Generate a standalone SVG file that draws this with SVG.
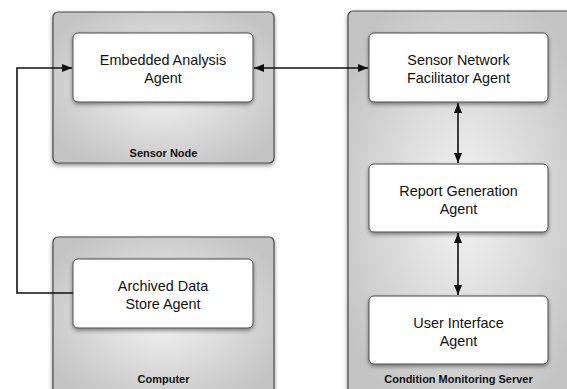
<svg xmlns="http://www.w3.org/2000/svg" width="567" height="389" viewBox="0 0 567 389">
<defs>
<radialGradient id="g" cx="0.5" cy="0.5" r="0.6">
<stop offset="0" stop-color="#f4f4f4"/>
<stop offset="1" stop-color="#c4c4c4"/>
</radialGradient>
<filter id="sh" x="-10%" y="-10%" width="120%" height="120%">
<feGaussianBlur in="SourceAlpha" stdDeviation="2"/>
<feOffset dx="0" dy="2" result="b"/>
<feComponentTransfer><feFuncA type="linear" slope="0.45"/></feComponentTransfer>
<feMerge><feMergeNode/><feMergeNode in="SourceGraphic"/></feMerge>
</filter>
<marker id="ah" viewBox="0 0 10 10" refX="10" refY="5" markerWidth="10" markerHeight="10" markerUnits="userSpaceOnUse" orient="auto-start-reverse">
<path d="M0,1 L10,5 L0,9 z" fill="#111"/>
</marker>
</defs>
<style>
.cont{fill:url(#g);stroke:#4a4a4a;stroke-width:1.2;filter:url(#sh)}
.agent{fill:#fff;stroke:#4a4a4a;stroke-width:1;filter:url(#sh)}
.t{font-family:"Liberation Sans",Arial,sans-serif;font-size:14.4px;fill:#111;text-anchor:middle}
.lb{font-family:"Liberation Sans",Arial,sans-serif;font-size:11px;font-weight:bold;fill:#111;text-anchor:middle}
.c{fill:none;stroke:#111;stroke-width:1.6}
</style>
<rect width="567" height="389" fill="#fff"/>
<g id="sensor-node">
<rect class="cont" x="53" y="12" width="221" height="151" rx="5"/>
<text class="lb" x="163.5" y="157">Sensor Node</text>
</g>
<g id="computer">
<rect class="cont" x="53" y="237" width="221" height="160" rx="5"/>
<text class="lb" x="163.5" y="383">Computer</text>
</g>
<g id="condition-monitoring-server">
<rect class="cont" x="348" y="11" width="230" height="386" rx="5"/>
<text class="lb" x="458.5" y="383">Condition Monitoring Server</text>
</g>
<g id="embedded-analysis-agent">
<rect class="agent" x="73" y="33" width="180" height="69" rx="5"/>
<text class="t" x="163" y="65">Embedded Analysis</text>
<text class="t" x="163" y="83">Agent</text>
</g>
<g id="archived-data-store-agent">
<rect class="agent" x="73" y="259" width="180" height="69" rx="5"/>
<text class="t" x="163" y="291">Archived Data</text>
<text class="t" x="163" y="309">Store Agent</text>
</g>
<g id="sensor-network-facilitator-agent">
<rect class="agent" x="369" y="33" width="179" height="69" rx="5"/>
<text class="t" x="458.5" y="65">Sensor Network</text>
<text class="t" x="458.5" y="83">Facilitator Agent</text>
</g>
<g id="report-generation-agent">
<rect class="agent" x="369" y="164" width="179" height="68" rx="5"/>
<text class="t" x="458.5" y="196">Report Generation</text>
<text class="t" x="458.5" y="214">Agent</text>
</g>
<g id="user-interface-agent">
<rect class="agent" x="369" y="296" width="179" height="68" rx="5"/>
<text class="t" x="458.5" y="328">User Interface</text>
<text class="t" x="458.5" y="346">Agent</text>
</g>
<g id="connectors">
<path class="c" d="M73,293 H17 V68 H72" marker-end="url(#ah)"/>
<path class="c" d="M254,68 H368" marker-start="url(#ah)" marker-end="url(#ah)"/>
<path class="c" d="M458,103 V163" marker-start="url(#ah)" marker-end="url(#ah)"/>
<path class="c" d="M458,233 V295" marker-start="url(#ah)" marker-end="url(#ah)"/>
</g>
</svg>
